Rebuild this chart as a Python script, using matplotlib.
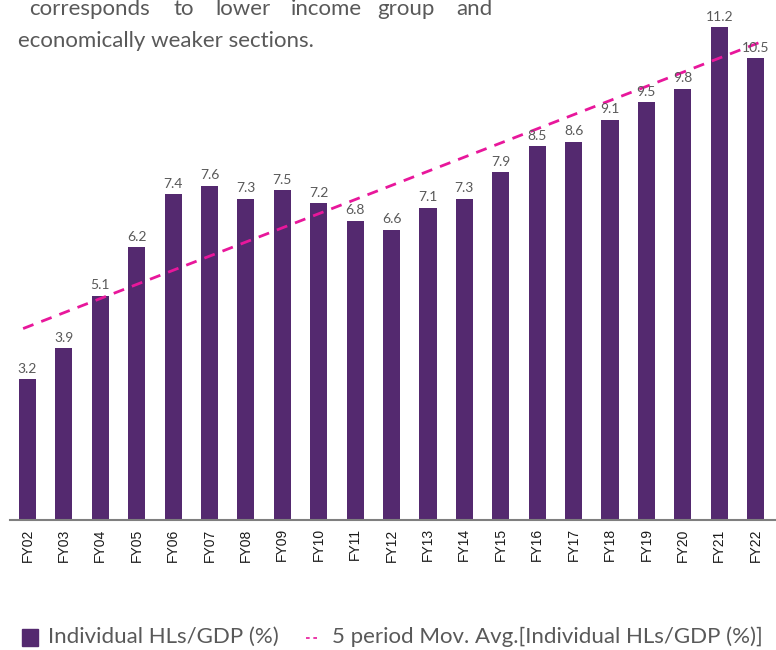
import numpy as np
import matplotlib
matplotlib.use("Agg")
import matplotlib.pyplot as plt
from matplotlib.patches import Rectangle
from matplotlib.lines import Line2D

plt.rcParams['font.family'] = ['Lato', 'DejaVu Sans']

# data
years = ['FY02', 'FY03', 'FY04', 'FY05', 'FY06', 'FY07', 'FY08', 'FY09', 'FY10', 'FY11',
         'FY12', 'FY13', 'FY14', 'FY15', 'FY16', 'FY17', 'FY18', 'FY19', 'FY20', 'FY21', 'FY22']
hl_gdp = [3.2, 3.9, 5.1, 6.2, 7.4, 7.6, 7.3, 7.5, 7.2, 6.8,
          6.6, 7.1, 7.3, 7.9, 8.5, 8.6, 9.1, 9.5, 9.8, 11.2, 10.5]
# trend line value at FY02 and FY22
trend_ends = [4.39, 10.82]

# justified first line of the (cut off) paragraph above the chart
header_words = ['corresponds', 'to', 'lower', 'income', 'group', 'and']
header_cx = [89, 184, 243, 326, 406, 474]

bar_col = '#54296F'
pink = '#E8179B'
grey = '#595959'

fig = plt.figure(figsize=(7.76, 6.5), dpi=100)
ax = fig.add_axes([10 / 776, 130 / 650, 766 / 776, 520 / 650])

x = np.arange(len(years))
ax.bar(x, hl_gdp, width=0.47, color=bar_col, zorder=2)

# straight trend line, slightly past the first and last bar
slope = (trend_ends[1] - trend_ends[0]) / (len(years) - 1)
tx = np.array([-0.12, 20.22])
ax.plot(tx, trend_ends[0] + slope * tx, color=pink, lw=2, dashes=(4, 3), zorder=3)

for xi, v in zip(x, hl_gdp):
    ax.text(xi, v + 0.1, f'{v:.1f}', ha='center', va='bottom', fontsize=10, color=grey, zorder=4)

ax.set_xlim(-0.48, 20.56)
ax.set_ylim(0, 11.82)
ax.set_xticks(x)
ax.set_xticklabels(years, rotation=90, fontsize=10, color='#1a1a1a', family='Liberation Sans')
ax.tick_params(axis='x', length=0, pad=6)
ax.set_yticks([])
for s in ['top', 'right', 'left']:
    ax.spines[s].set_visible(False)
ax.spines['bottom'].set_color('#7f7f7f')
ax.spines['bottom'].set_linewidth(1.5)

# text above the chart (cut off at the top in the source)
for w, cx in zip(header_words, header_cx):
    fig.text(cx / 776, 1 - 9 / 650, w, fontsize=16, color=grey, va='center', ha='center')
fig.text(18 / 776, 1 - 41 / 650, 'economically weaker sections.', fontsize=16,
         color=grey, va='center', ha='left')

# legend
fig.patches.append(Rectangle((22 / 776, 1 - 646 / 650), 16 / 776, 17 / 650,
                             transform=fig.transFigure, color=bar_col))
fig.text(48 / 776, 1 - 637 / 650, 'Individual HLs/GDP (%)', fontsize=16, color=grey, va='center')
fig.lines.append(Line2D([306 / 776, 320 / 776], [1 - 638 / 650] * 2, transform=fig.transFigure,
                        color=pink, lw=1.2, dashes=(2.2, 2.2)))
fig.text(332 / 776, 1 - 637 / 650, '5 period Mov. Avg.[Individual HLs/GDP (%)]', fontsize=16,
         color=grey, va='center')

fig.savefig('out.png', dpi=100)
